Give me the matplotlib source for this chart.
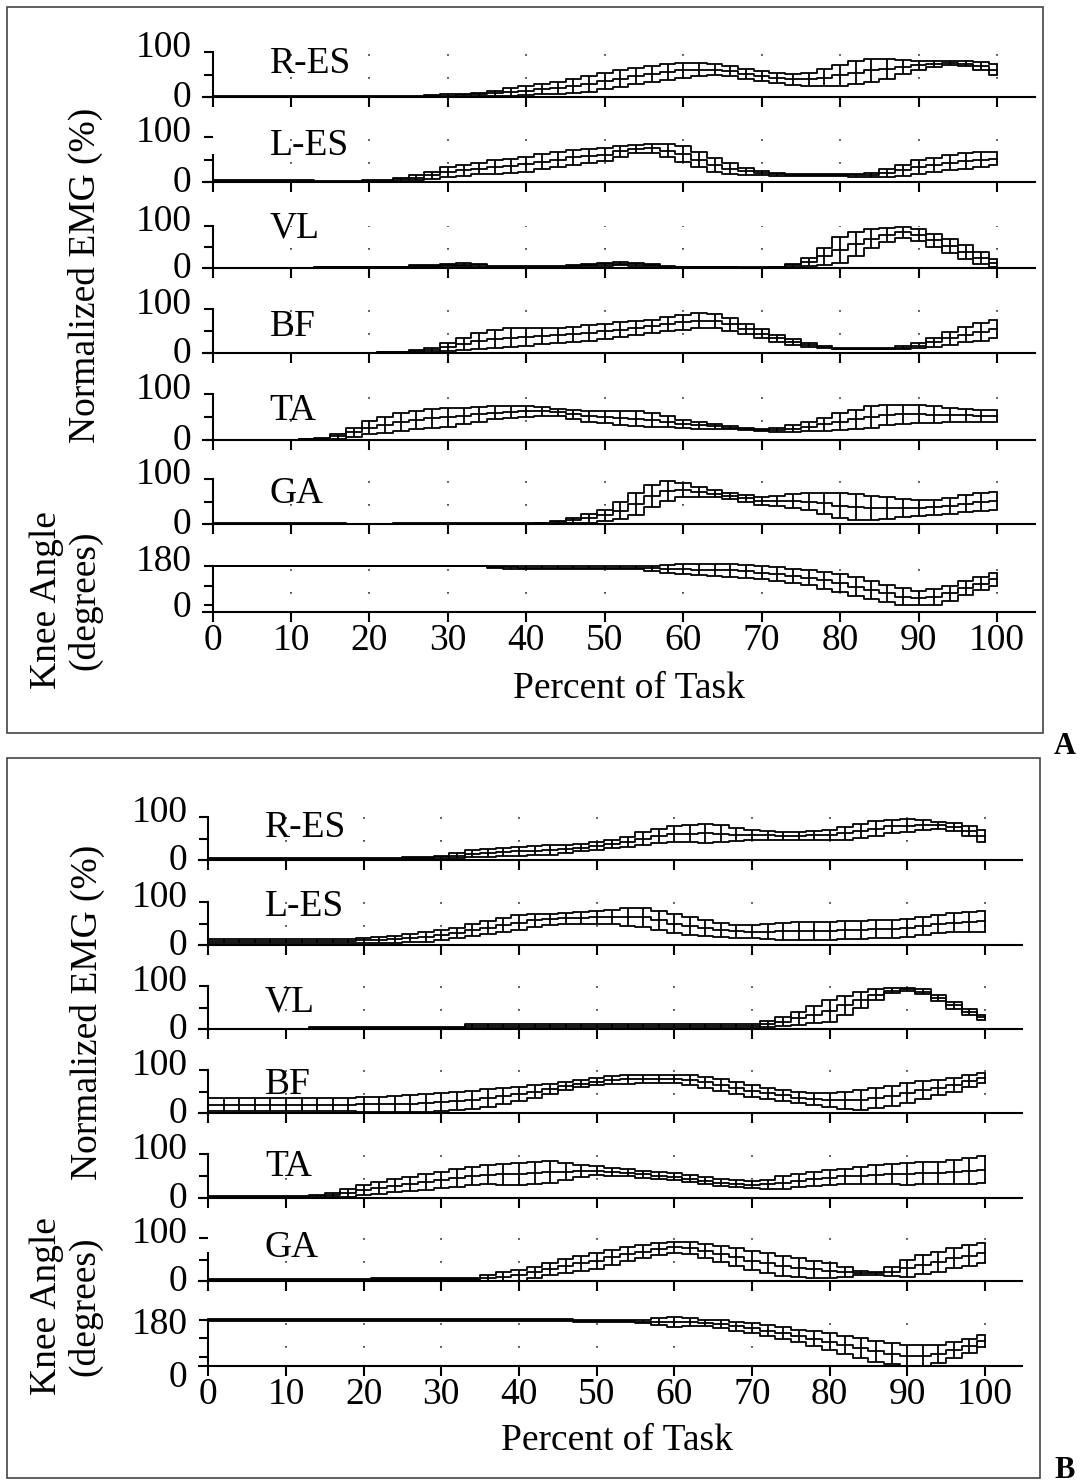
import matplotlib
matplotlib.use('Agg')
import matplotlib.pyplot as plt
from matplotlib.patches import Rectangle
import numpy as np

plt.rcParams['font.family'] = ['Liberation Serif', 'DejaVu Serif']

# ---------------- data (percent of task sampled every 2 %) ----------------
pct = list(range(0, 101, 2))
muscles = ['R-ES', 'L-ES', 'VL', 'BF', 'TA', 'GA']
x_ticks = list(range(0, 101, 10))

# Panel A
A_RES_mean = [0.5]*13 + [1, 2, 3, 4, 6, 8, 11, 14, 17, 20, 24, 29, 35, 41, 47, 52, 56, 59, 61, 61, 58, 52, 46, 42, 39, 39, 43, 48, 54, 59, 63, 67, 71, 74, 76, 74, 68, 61]
A_RES_sd = [1]*13 + [1, 2, 3, 3, 4, 6, 8, 10, 11, 13, 15, 17, 18, 18, 18, 18, 18, 17, 15, 13, 12, 11, 11, 11, 12, 15, 19, 24, 26, 25, 22, 16, 10, 7, 5, 6, 9, 12]
A_LES_mean = [3]*7 + [1, 0.5, 0.5, 2, 3, 6, 10, 15, 22, 26, 30, 33, 36, 39, 45, 50, 55, 58, 61, 68, 74, 75, 70, 62, 50, 38, 30, 24, 20, 17, 15, 15, 15, 15, 15, 16, 20, 26, 33, 38, 43, 47, 50, 52]
A_LES_sd = [2]*7 + [1, 1, 1, 2, 2, 4, 6, 8, 11, 12, 13, 15, 16, 17, 17, 17, 17, 16, 15, 12, 9, 10, 14, 17, 17, 15, 12, 8, 5, 3, 2, 2, 2, 2, 3, 5, 8, 12, 15, 16, 17, 17, 16, 15]
A_VL_mean = [0.5]*7 + [2]*6 + [4, 4, 7, 8, 6, 3, 3, 3, 3, 3, 5, 7, 9, 10, 9, 7, 3, 2, 2, 2, 2, 1, 1, 2, 6, 15, 28, 43, 57, 70, 79, 85, 78, 66, 52, 38, 24, 12]
A_VL_sd = [0.5]*7 + [1]*6 + [2, 2, 3, 4, 3, 1, 1, 1, 1, 1, 2, 3, 4, 4, 4, 3, 1, 1, 1, 1, 1, 0.5, 0.5, 1, 4, 10, 20, 30, 28, 22, 16, 13, 14, 16, 17, 17, 14, 10]
A_BF_mean = [0.5]*11 + [2, 2, 4, 7, 14, 20, 27, 32, 35, 37, 38, 40, 43, 46, 49, 53, 57, 61, 66, 70, 73, 72, 65, 55, 44, 34, 25, 18, 13, 10, 10, 10, 10, 12, 17, 24, 33, 41, 48, 54]
A_BF_sd = [0.5]*11 + [1, 1, 2, 4, 9, 14, 18, 20, 21, 20, 18, 17, 17, 18, 18, 17, 16, 15, 16, 17, 17, 16, 14, 12, 10, 8, 6, 4, 2, 1, 1, 1, 1, 3, 6, 10, 14, 17, 20, 21]
A_TA_mean = [0.5]*6 + [2, 3, 8, 17, 27, 33, 39, 44, 47, 49, 52, 56, 59, 61, 62, 62, 60, 56, 52, 49, 47, 46, 44, 40, 35, 32, 30, 27, 24, 22, 22, 25, 29, 34, 40, 45, 50, 54, 56, 56, 55, 54, 54, 53, 53]
A_TA_sd = [0.5]*6 + [1, 2, 5, 10, 15, 17, 19, 20, 20, 20, 18, 16, 14, 13, 12, 9, 8, 10, 12, 13, 15, 16, 15, 12, 9, 7, 5, 4, 3, 3, 4, 7, 10, 14, 18, 21, 23, 22, 21, 20, 18, 15, 14, 13, 13]
A_GA_mean = [1]*9 + [0.5]*3 + [1]*9 + [2, 4, 8, 13, 19, 30, 45, 62, 74, 76, 72, 67, 62, 57, 52, 51, 51, 50, 46, 41, 38, 36, 35, 35, 35, 37, 40, 45, 49, 52]
A_GA_sd = [1]*9 + [0.5]*3 + [1]*9 + [1, 3, 6, 10, 13, 18, 24, 25, 22, 15, 11, 8, 7, 8, 9, 11, 15, 19, 24, 27, 28, 27, 24, 20, 18, 17, 18, 19, 20, 20]
A_KNEE_mean = [180]*18 + [176, 174] + [173]*8 + [170, 167, 165, 164, 162, 160, 155, 150, 143, 135, 126, 114, 101, 86, 71, 55, 40, 34, 38, 55, 80, 100, 120]
A_KNEE_sd = [2]*18 + [4, 6] + [6]*8 + [12, 17, 22, 25, 27, 28, 30, 30, 32, 33, 35, 38, 41, 42, 42, 40, 38, 34, 36, 35, 32, 30, 30]

# Panel B
B_RES_mean = [3]*13 + [4, 5, 6, 10, 15, 17, 19, 20, 22, 23, 26, 29, 33, 37, 42, 50, 56, 60, 61, 62, 61, 59, 58, 57, 56, 56, 57, 58, 62, 67, 73, 78, 80, 81, 81, 76, 67, 56]
B_RES_sd = [2]*13 + [2, 3, 3, 6, 8, 9, 10, 11, 11, 11, 10, 9, 9, 10, 12, 15, 17, 18, 20, 22, 20, 15, 12, 10, 10, 10, 11, 12, 15, 16, 17, 16, 15, 11, 8, 9, 11, 13]
B_LES_mean = [10]*10 + [11, 12, 13, 16, 19, 23, 28, 34, 40, 46, 52, 57, 60, 62, 63, 64, 65, 66, 64, 57, 50, 44, 39, 35, 32, 31, 31, 32, 33, 33, 33, 34, 35, 37, 38, 40, 44, 49, 52, 54, 55]
B_LES_sd = [5]*10 + [6, 7, 9, 10, 11, 11, 12, 14, 15, 16, 17, 15, 13, 13, 14, 14, 17, 21, 23, 23, 23, 21, 18, 16, 15, 15, 17, 20, 21, 21, 21, 21, 21, 21, 21, 21, 21, 21, 22, 23, 24]
B_VL_mean = [0.5]*7 + [3]*10 + [7]*19 + [11, 17, 25, 33, 42, 55, 68, 80, 89, 92, 87, 72, 55, 40, 27]
B_VL_sd = [0.5]*7 + [2]*10 + [5]*19 + [7, 11, 15, 20, 25, 22, 18, 12, 6, 3, 6, 8, 8, 7, 6]
B_BF_mean = [19]*10 + [20, 20, 21, 22, 24, 25, 28, 31, 35, 39, 44, 50, 56, 62, 68, 73, 76, 78, 79, 79, 79, 76, 71, 65, 58, 52, 46, 41, 36, 33, 31, 30, 31, 34, 40, 46, 53, 59, 66, 74, 81]
B_BF_sd = [15]*10 + [17, 18, 19, 20, 21, 21, 21, 21, 20, 18, 17, 14, 11, 9, 8, 8, 9, 10, 10, 10, 10, 12, 13, 14, 14, 14, 13, 12, 12, 14, 16, 20, 23, 23, 23, 23, 21, 18, 16, 14, 12]
B_TA_mean = [3]*7 + [4, 7, 12, 18, 23, 28, 32, 37, 41, 45, 50, 53, 54, 54, 56, 58, 60, 61, 62, 59, 57, 54, 51, 48, 44, 39, 35, 32, 30, 31, 35, 39, 43, 46, 49, 51, 53, 54, 54, 56, 57, 59, 61, 64]
B_TA_sd = [2]*7 + [3, 5, 9, 12, 13, 15, 16, 18, 19, 20, 20, 22, 24, 25, 25, 25, 20, 14, 10, 9, 8, 8, 8, 8, 8, 8, 8, 8, 8, 11, 14, 15, 16, 17, 18, 19, 21, 23, 25, 25, 25, 27, 29, 31]
B_GA_mean = [2]*11 + [4]*6 + [5, 7, 10, 13, 20, 28, 35, 41, 47, 55, 62, 68, 74, 78, 76, 70, 63, 55, 47, 41, 35, 31, 27, 24, 21, 18, 18, 22, 30, 38, 45, 53, 59, 65]
B_GA_sd = [2]*11 + [2]*6 + [3, 6, 10, 12, 13, 14, 16, 17, 18, 17, 16, 15, 14, 13, 14, 17, 19, 21, 22, 23, 23, 22, 20, 18, 12, 5, 3, 10, 20, 22, 23, 23, 24, 24]
B_KNEE_mean = [180]*24 + [178, 176, 176, 176, 175, 175, 174, 172, 170, 166, 160, 153, 145, 137, 128, 119, 109, 99, 88, 78, 70, 64, 64, 70, 82, 96, 111]
B_KNEE_sd = [2]*24 + [3, 4, 4, 4, 5, 10, 16, 13, 11, 13, 15, 17, 18, 19, 21, 24, 27, 30, 32, 34, 35, 35, 34, 30, 26, 22, 19]

# ---------------- layout (pixels) ----------------
W, H = 1082, 1482
fig = plt.figure(figsize=(W / 100, H / 100), dpi=100)
FS = 27
LW_AX = 1.5
LW_BAND = 1.3

def add_ax(x0, x100, y_lo_px, y_hi_px, ylo, yhi):
    pxu = (x100 - x0) / 100.0
    xmin, xmax = -1.2, 104.8
    left = x0 + xmin * pxu
    right = x0 + xmax * pxu
    ax = fig.add_axes([left / W, 1 - y_lo_px / H, (right - left) / W, (y_lo_px - y_hi_px) / H])
    ax.set_xlim(xmin, xmax)
    ax.set_ylim(ylo, yhi)
    ax.patch.set_visible(False)
    for s in ('top', 'right'):
        ax.spines[s].set_visible(False)
    ax.spines['left'].set_position(('data', 0))
    ax.spines['left'].set_linewidth(LW_AX)
    ax.spines['bottom'].set_linewidth(LW_AX)
    ax.set_xticks(x_ticks)
    ax.set_xticklabels([])
    ax.tick_params(axis='x', direction='out', length=7.5, width=LW_AX)
    ax.tick_params(axis='y', direction='out', length=6.5, width=LW_AX)
    ax.set_yticklabels([])
    return ax

def draw_band(ax, mean, sd):
    x = np.asarray(pct, float)
    m = np.asarray(mean, float)
    s = np.asarray(sd, float)
    ax.vlines(x, m - s, m + s, colors='k', lw=LW_BAND, clip_on=False)
    for yy in (m + s, m - s, m):
        ax.step(x, yy, where='mid', color='k', lw=LW_BAND, clip_on=False)

def grid_dots(ax, ylo, yhi):
    ax.vlines(x_ticks[1:], ylo, yhi, colors='k', lw=1.1, linestyles=[(3, (1, 14))])

def ylab(ax, txt, yv, dy):
    ax.annotate(txt, xy=(0, yv), xycoords='data', xytext=(-21, dy), textcoords='offset pixels',
                ha='right', va='baseline', fontsize=FS, annotation_clip=False)

def panel(x0, x100, zeros, tops, data, knee, knee_px, knee_lims, knee_ticks, knee_labels,
          lab_off, spine_bounds):
    for i, (z, t, (mn, sd)) in enumerate(zip(zeros, tops, data)):
        ax = add_ax(x0, x100, z, t, 0, 100)
        ax.set_yticks([0, 50, 100])
        ax.spines['left'].set_bounds(*spine_bounds[i])
        grid_dots(ax, 0, 100)
        draw_band(ax, mn, sd)
        ylab(ax, '100', 100, -5)
        ylab(ax, '0', 0, -10)
        ax.annotate(muscles[i], xy=(7.3, 0), xycoords='data', xytext=(0, lab_off[i]),
                    textcoords='offset pixels', ha='left', va='baseline', fontsize=FS)
    ax = add_ax(x0, x100, knee_px[0], knee_px[1], knee_lims[0], knee_lims[1])
    ax.set_yticks(knee_ticks)
    grid_dots(ax, knee_lims[0], knee_lims[1])
    draw_band(ax, knee[0], knee[1])
    for txt, yv, dy in knee_labels:
        ylab(ax, txt, yv, dy)
    for xt in x_ticks:
        ax.annotate(str(xt), xy=(xt, knee_lims[0]), xycoords='data', xytext=(0, -38),
                    textcoords='offset pixels', ha='center', va='baseline', fontsize=FS,
                    annotation_clip=False)
    return ax

# Panel A
panel(212.5, 997.0,
      [97, 182, 268, 353, 440, 524], [52, 137, 226, 309, 394, 479],
      [(A_RES_mean, A_RES_sd), (A_LES_mean, A_LES_sd), (A_VL_mean, A_VL_sd),
       (A_BF_mean, A_BF_sd), (A_TA_mean, A_TA_sd), (A_GA_mean, A_GA_sd)],
      (A_KNEE_mean, A_KNEE_sd), (612, 566), (-30, 180), [0, 90, 180],
      [('180', 180, -5), ('0', 0, -12)],
      [24, 27, 30, 17, 20, 21],
      [(0, 100), (0, 60), (0, 100), (0, 100), (0, 100), (0, 100)])

# Panel B
panel(208.3, 985.0,
      [860, 945, 1029, 1113, 1198, 1281], [817, 902, 986, 1070, 1154, 1238],
      [(B_RES_mean, B_RES_sd), (B_LES_mean, B_LES_sd), (B_VL_mean, B_VL_sd),
       (B_BF_mean, B_BF_sd), (B_TA_mean, B_TA_sd), (B_GA_mean, B_GA_sd)],
      (B_KNEE_mean, B_KNEE_sd), (1366, 1320), (30, 180), [60, 120, 180],
      [('180', 180, -14), ('0', 0, -12)],
      [23, 29, 17, 19, 22, 24],
      [(0, 100), (0, 100), (0, 100), (0, 100), (0, 100), (0, 65)])

# axis titles
def ftext(x, y, s, **kw):
    fig.text(x / W, 1 - y / H, s, fontsize=FS, **kw)

ftext(85, 275, 'Normalized EMG (%)', rotation=90, ha='center', va='center')
ftext(66, 600, 'Knee Angle\n(degrees)', rotation=90, ha='center', va='center',
      multialignment='center', linespacing=1.1)
ftext(629, 698, 'Percent of Task', ha='center', va='baseline')

ftext(87, 1012, 'Normalized EMG (%)', rotation=90, ha='center', va='center')
ftext(66, 1306, 'Knee Angle\n(degrees)', rotation=90, ha='center', va='center',
      multialignment='center', linespacing=1.1)
ftext(617, 1450, 'Percent of Task', ha='center', va='baseline')

# panel frames and letters
for (x1, y1, x2, y2) in [(7, 7, 1043, 733), (7, 758, 1040, 1478)]:
    fig.add_artist(Rectangle((x1 / W, 1 - y2 / H), (x2 - x1) / W, (y2 - y1) / H,
                             transform=fig.transFigure, fill=False, lw=1.2, ec='#444444'))
fig.text(1065 / W, 1 - 746 / H, 'A', fontsize=22, fontweight='bold', ha='center', va='center')
fig.text(1065 / W, 1 - 1470 / H, 'B', fontsize=22, fontweight='bold', ha='center', va='center')

fig.savefig('out.png', dpi=100)
